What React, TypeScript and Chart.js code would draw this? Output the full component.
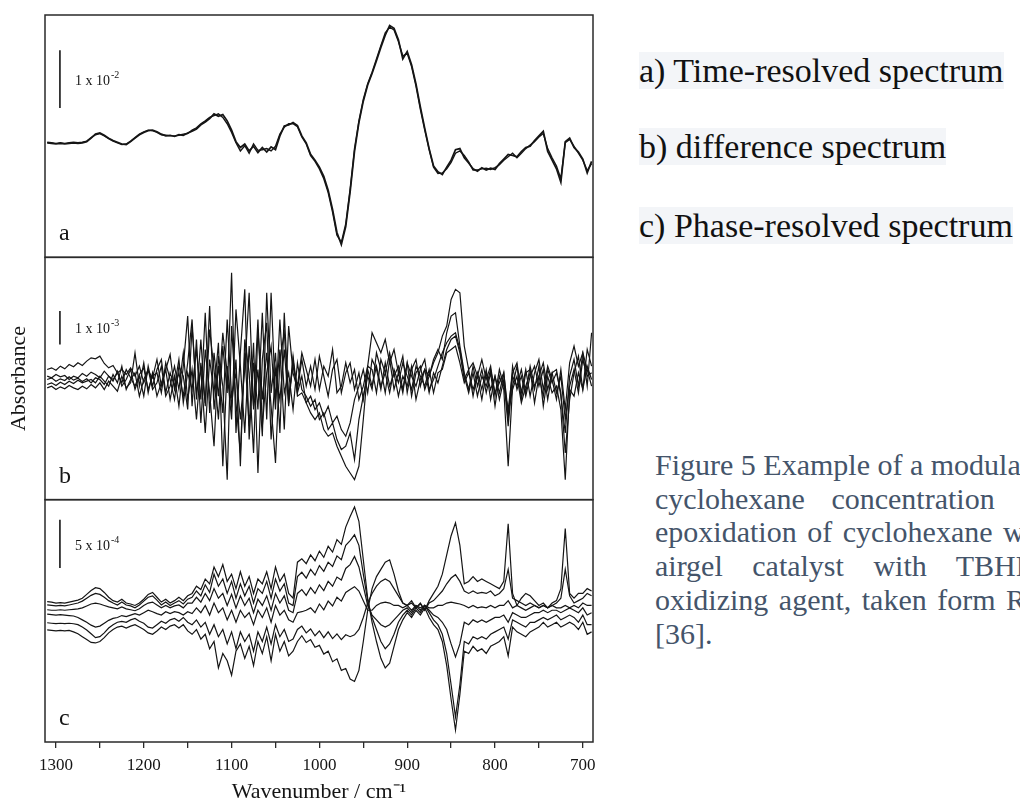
import React, { useEffect, useRef } from 'react';
import { Chart, registerables } from 'chart.js';

Chart.register(...registerables);

// ---------- data ----------
const WAVENUMBERS = [
  1310, 1305, 1300, 1295, 1290, 1285, 1280, 1275, 1270, 1265,
  1260, 1255, 1250, 1245, 1240, 1235, 1230, 1225, 1220, 1215,
  1210, 1205, 1200, 1195, 1190, 1185, 1180, 1175, 1170, 1165,
  1160, 1155, 1150, 1145, 1140, 1135, 1130, 1125, 1120, 1115,
  1110, 1105, 1100, 1095, 1090, 1085, 1080, 1075, 1070, 1065,
  1060, 1055, 1050, 1045, 1040, 1035, 1030, 1025, 1020, 1015,
  1010, 1005, 1000, 995, 990, 985, 980, 975, 970, 965,
  960, 955, 950, 945, 940, 935, 930, 925, 920, 915,
  910, 905, 900, 895, 890, 885, 880, 875, 870, 865,
  860, 855, 850, 845, 840, 835, 830, 825, 820, 815,
  810, 805, 800, 795, 790, 785, 780, 775, 770, 765,
  760, 755, 750, 745, 740, 735, 730, 725, 720, 715,
  710, 705, 700, 695, 690,
];

// panel a: time-resolved spectra (units of 1e-2)
const A1 = [
  0.00, -0.01, -0.02, -0.01, -0.02, -0.01, 0.00, -0.01, 0.00, 0.02,
  0.08, 0.15, 0.17, 0.13, 0.08, 0.04, 0.01, -0.02, -0.03, 0.02,
  0.08, 0.14, 0.18, 0.21, 0.22, 0.19, 0.15, 0.12, 0.13, 0.11,
  0.14, 0.13, 0.17, 0.20, 0.24, 0.31, 0.36, 0.42, 0.50, 0.46,
  0.49, 0.38, 0.22, 0.02, -0.08, -0.02, -0.14, -0.06, -0.17, -0.08,
  -0.16, -0.07, -0.12, 0.12, 0.29, 0.31, 0.35, 0.30, 0.12, 0.00,
  -0.20, -0.30, -0.42, -0.58, -0.82, -1.15, -1.55, -1.76, -1.45, -0.85,
  -0.15, 0.35, 0.72, 1.00, 1.20, 1.42, 1.65, 1.86, 2.03, 1.98,
  1.78, 1.45, 1.58, 1.35, 1.02, 0.62, 0.25, -0.10, -0.40, -0.50,
  -0.55, -0.42, -0.30, -0.12, -0.10, -0.26, -0.35, -0.45, -0.49, -0.43,
  -0.47, -0.44, -0.46, -0.36, -0.28, -0.20, -0.22, -0.24, -0.15, -0.08,
  -0.06, 0.04, 0.12, 0.20, -0.15, -0.30, -0.45, -0.68, 0.02, 0.08,
  -0.08, -0.16, -0.28, -0.52, -0.32,
];
const A2 = [
  0.01, 0.00, -0.01, 0.00, -0.01, 0.00, 0.01, 0.00, 0.01, 0.03,
  0.09, 0.14, 0.16, 0.12, 0.07, 0.03, 0.00, -0.03, -0.02, 0.03,
  0.09, 0.15, 0.19, 0.22, 0.21, 0.18, 0.14, 0.13, 0.12, 0.12,
  0.13, 0.15, 0.16, 0.22, 0.26, 0.33, 0.38, 0.44, 0.47, 0.50,
  0.44, 0.33, 0.18, 0.00, -0.14, -0.05, -0.18, -0.02, -0.13, -0.12,
  -0.10, -0.14, -0.06, 0.15, 0.27, 0.33, 0.33, 0.28, 0.10, -0.02,
  -0.22, -0.32, -0.45, -0.62, -0.86, -1.20, -1.60, -1.72, -1.40, -0.80,
  -0.10, 0.38, 0.75, 1.02, 1.22, 1.45, 1.68, 1.90, 2.00, 1.95,
  1.75, 1.50, 1.55, 1.32, 0.98, 0.58, 0.22, -0.12, -0.42, -0.53,
  -0.52, -0.45, -0.34, -0.18, -0.14, -0.22, -0.33, -0.47, -0.47, -0.45,
  -0.44, -0.46, -0.43, -0.38, -0.30, -0.24, -0.18, -0.26, -0.18, -0.10,
  -0.04, 0.02, 0.10, 0.16, -0.10, -0.26, -0.40, -0.62, 0.00, 0.06,
  -0.06, -0.18, -0.30, -0.48, -0.36,
];

// panel b: difference spectra (units of 1e-3)
const B1 = [
  0.30, 0.35, 0.28, 0.40, 0.32, 0.45, 0.38, 0.50, 0.42, 0.55,
  0.65, 0.62, 0.70, 0.48, 0.35, 0.42, 0.20, 0.30, 0.15, 0.35,
  0.10, 0.40, -0.10, 0.25, 0.05, 0.60, -0.20, 0.30, 0.75, -0.30,
  0.20, -0.50, 0.50, 1.80, -0.60, 1.20, -0.80, 1.50, 0.30, -1.20,
  1.00, -0.40, 3.20, -1.60, 0.80, 2.70, -1.80, 0.50, -0.90, 2.00,
  -1.20, 2.60, -0.60, 0.90, -1.50, 1.60, 0.20, -0.30, 0.60, -0.20,
  0.40, -0.30, 0.70, 0.10, -0.50, 0.30, 0.60, -0.40, 0.20, 0.50,
  -0.30, 0.20, -0.60, 0.40, 1.40, 1.10, 0.80, 1.20, 0.50, 0.90,
  0.20, 0.70, -0.40, 0.30, 0.60, -0.20, 0.30, 0.10, 0.50, 0.80,
  1.30, 1.60, 2.40, 2.70, 2.60, 1.00, 0.30, 0.50, 0.10, 0.60,
  0.00, 0.40, -0.50, 0.30, -0.20, -0.90, 0.20, 0.50, -0.40, 0.30,
  -0.50, 0.20, 0.60, -0.30, 0.40, 0.00, -0.60, 0.30, -0.90, 0.50,
  1.00, 0.40, 0.80, -0.20, 1.40,
];
const B2 = [
  0.10, 0.05, 0.15, 0.08, 0.12, 0.00, 0.10, 0.05, 0.18, 0.10,
  0.22, 0.15, 0.05, 0.25, 0.10, 0.00, 0.20, -0.10, 0.30, 0.05,
  -0.20, 0.15, 0.35, -0.30, 0.10, 0.20, -0.40, 0.50, 0.00, -0.60,
  0.40, 0.10, -0.90, 1.60, -0.40, 0.30, -1.60, 0.60, -0.40, 1.10,
  -2.60, 0.40, -0.80, 0.60, -2.60, 1.20, 0.20, -2.20, 1.50, -0.60,
  0.80, -0.80, -2.50, 0.60, 1.40, -0.50, 0.40, -0.20, 0.80, 0.30,
  -0.20, 0.60, -0.30, 0.40, 0.10, 0.90, -0.40, -0.20, 0.50, -0.10,
  0.30, -0.60, -0.20, 0.40, 0.30, -0.40, 0.60, 0.20, 0.80, 0.10,
  0.40, -0.30, 0.50, -0.50, 0.20, 0.40, -0.30, 0.10, 0.60, 0.90,
  0.60, 1.40, 1.90, 2.00, 1.00, 0.20, -0.30, 0.40, -0.20, 0.30,
  -0.40, 0.20, -0.80, 0.10, -0.30, -2.60, -0.20, 0.40, -0.60, 0.20,
  0.30, -0.70, 0.10, 0.50, -0.30, 0.20, -0.40, 0.10, -1.20, -0.20,
  0.30, -0.40, 0.60, 0.10, 0.20,
];
const B3 = [
  -0.25, -0.20, -0.30, -0.22, -0.28, -0.18, -0.25, -0.30, -0.20, -0.28,
  -0.15, -0.25, -0.10, -0.30, -0.05, -0.20, -0.35, 0.10, -0.25, -0.10,
  0.80, -0.20, 0.50, -0.40, 0.20, -0.50, -0.10, 0.30, -0.60, 0.10,
  -0.80, 0.40, 1.90, -0.80, 1.20, -1.30, 0.90, -0.40, -2.00, 0.70,
  -0.20, -3.00, 1.60, -0.70, -2.20, 0.80, -1.40, 1.10, -2.80, 0.60,
  1.70, -1.80, 0.30, -0.60, 0.90, -0.80, 0.60, -0.50, -0.40, -0.70,
  -0.50, -0.90, -0.70, -1.10, -0.80, -1.30, -1.10, -1.50, -1.70, -1.30,
  -0.60, -0.20, 0.30, -0.40, 0.60, 0.30, -0.30, 0.50, -0.20, 0.20,
  -0.50, 0.10, -0.20, 0.40, -0.60, 0.00, 0.30, -0.40, 0.20, -0.10,
  0.40, 0.90, 1.20, 1.30, 0.80, 0.00, 0.30, -0.50, 0.20, -0.30,
  0.30, -0.60, 0.10, -0.40, 0.20, -1.00, -0.30, 0.10, -0.70, -0.20,
  0.20, -0.30, 0.40, -0.80, 0.10, -0.40, -0.20, -0.90, -3.00, -0.30,
  -0.50, 0.20, -0.30, 0.40, 0.00,
];
const B4 = [
  0.00, 0.05, -0.05, 0.02, -0.03, 0.08, -0.02, 0.04, -0.06, 0.02,
  -0.10, 0.05, 0.00, -0.15, 0.10, -0.05, 0.25, -0.20, 0.00, 0.30,
  -0.30, 0.10, -0.50, 0.40, -0.20, 0.30, 0.60, -0.40, 0.20, -0.20,
  0.60, -0.70, 0.20, -0.30, 0.90, -0.60, 2.00, -1.00, 0.80, -0.50,
  1.40, 0.20, -1.20, 2.10, 0.40, -1.60, 1.00, -0.80, 1.80, -1.40,
  0.20, 1.00, -0.90, 1.80, -0.40, 0.20, -0.90, 0.50, -0.30, -0.50,
  -0.80, -0.60, -1.20, -1.00, -1.50, -1.30, -1.80, -2.10, -2.00, -1.60,
  -2.40, -1.20, -0.50, 0.10, -0.30, 0.80, 0.30, -0.40, 0.60, -0.30,
  0.20, -0.40, 0.50, 0.10, -0.20, 0.30, 0.60, -0.30, 0.00, 0.40,
  0.80, 1.10, 1.30, 1.40, 0.90, 0.10, -0.40, 0.20, -0.50, 0.10,
  -0.20, 0.30, -0.40, -0.10, 0.20, -1.20, 0.40, -0.30, 0.10, -0.50,
  0.10, 0.40, -0.20, 0.30, -0.60, 0.20, 0.30, -0.50, -1.60, 0.10,
  0.60, -0.20, 0.80, 0.30, -0.20,
];
const B5 = [
  -0.15, -0.10, -0.18, -0.08, -0.15, -0.05, -0.12, -0.02, -0.10, -0.05,
  0.00, -0.10, 0.10, -0.05, -0.20, 0.15, -0.10, 0.40, -0.30, 0.00,
  0.20, -0.50, 0.00, 0.30, -0.30, -0.10, 0.40, -0.50, -0.20, 0.40,
  -0.30, 0.80, -0.60, 0.30, -1.20, 0.50, -0.70, 2.20, -0.90, 0.40,
  -1.00, 1.80, -0.50, 0.20, -1.20, 0.30, 2.60, -0.90, 0.30, -1.70,
  2.60, -0.40, 0.80, -1.60, 2.00, -0.70, 0.70, -0.40, 0.10, -0.70,
  -1.00, -1.20, -1.00, -1.50, -1.70, -1.60, -2.00, -2.30, -2.60, -2.80,
  -3.00, -2.60, -1.20, 0.30, -0.20, 0.40, -0.20, 0.20, -0.40, 0.30,
  -0.10, 0.50, 0.10, -0.30, 0.40, 0.10, -0.20, 0.30, -0.40, 0.20,
  0.30, 0.80, 0.90, 1.00, 0.50, -0.10, 0.20, -0.30, 0.10, -0.60,
  0.20, -0.30, 0.10, -0.60, 0.00, -1.40, 0.10, -0.20, 0.30, -0.40,
  0.40, -0.20, 0.10, -0.50, 0.30, -0.10, 0.20, -0.40, -2.20, -0.60,
  0.20, 0.70, -0.30, 0.90, 0.40,
];

// panel c: phase-resolved spectra (units of 5e-4)
const C1 = [
  0.13, 0.12, 0.10, 0.11, 0.10, 0.12, 0.14, 0.16, 0.20, 0.28,
  0.36, 0.42, 0.40, 0.32, 0.22, 0.15, 0.12, 0.18, 0.10, 0.08,
  0.05, 0.10, 0.18, 0.28, 0.32, 0.22, 0.12, 0.18, 0.10, 0.15,
  0.22, 0.15, 0.25, 0.30, 0.45, 0.38, 0.60, 0.50, 0.85, 0.65,
  0.90, 0.55, 0.70, 0.40, 0.75, 0.45, 0.65, 0.30, 0.60, 0.50,
  0.75, 0.40, 0.85, 0.55, 0.70, 0.30, 0.20, 0.95, 1.02, 0.92,
  1.10, 0.98, 1.18, 1.05, 1.28, 1.16, 1.42, 1.32, 1.68, 1.90,
  2.10, 1.80, 1.00, 0.20, -0.30, -0.70, -1.05, -1.25, -1.15, -0.80,
  -0.45, -0.25, -0.10, -0.20, -0.05, -0.15, 0.00, -0.20, -0.35, -0.45,
  -0.70, -1.20, -1.90, -2.54, -1.80, -0.90, -0.95, -0.80, -0.90, -0.85,
  -0.95, -0.80, -0.75, -0.70, -0.60, -1.00, -0.40, -0.50, -0.55, -0.60,
  -0.50, -0.45, -0.40, -0.30, -0.40, -0.35, -0.30, -0.40, -0.35, -0.30,
  -0.35, -0.45, -0.30, -0.55, -0.50,
];
const C2 = [
  0.06, 0.05, 0.04, 0.05, 0.04, 0.06, 0.08, 0.10, 0.14, 0.20,
  0.26, 0.30, 0.28, 0.22, 0.15, 0.10, 0.06, 0.12, 0.06, 0.04,
  0.00, 0.06, 0.14, 0.22, 0.25, 0.16, 0.06, 0.12, 0.05, 0.10,
  0.15, 0.08, 0.18, 0.22, 0.35, 0.25, 0.48, 0.32, 0.70, 0.45,
  0.60, 0.30, 0.55, 0.20, 0.50, 0.25, 0.45, 0.10, 0.40, 0.30,
  0.55, 0.20, 0.60, 0.35, 0.50, 0.10, 0.05, 0.65, 0.74, 0.62,
  0.80, 0.68, 0.88, 0.76, 0.95, 0.86, 1.08, 1.00, 1.30, 1.40,
  1.52, 1.30, 0.70, 0.15, -0.20, -0.45, -0.70, -0.85, -0.75, -0.55,
  -0.30, -0.15, -0.05, -0.15, 0.00, -0.10, 0.05, -0.10, -0.25, -0.35,
  -0.55, -0.95, -1.60, -2.27, -1.60, -0.70, -0.75, -0.60, -0.65, -0.60,
  -0.65, -0.55, -0.50, -0.45, -0.40, -0.65, -0.25, -0.30, -0.35, -0.40,
  -0.30, -0.30, -0.25, -0.20, -0.25, -0.20, -0.15, -0.25, -0.20, -0.15,
  -0.20, -0.30, -0.15, -0.35, -0.35,
];
const C3 = [
  -0.04, -0.05, -0.05, -0.04, -0.05, -0.04, -0.03, -0.02, 0.00, 0.04,
  0.08, 0.10, 0.08, 0.05, 0.02, 0.00, -0.02, 0.02, -0.02, -0.04,
  -0.06, -0.02, 0.05, 0.10, 0.12, 0.06, 0.00, 0.05, 0.00, 0.04,
  0.06, 0.00, 0.10, 0.10, 0.22, 0.12, 0.30, 0.15, 0.40, 0.20,
  0.30, 0.05, 0.28, 0.00, 0.25, 0.05, 0.20, -0.10, 0.18, 0.05,
  0.25, -0.05, 0.30, 0.10, 0.25, -0.05, -0.10, 0.30, 0.38, 0.26,
  0.42, 0.30, 0.48, 0.36, 0.55, 0.45, 0.64, 0.58, 0.82, 0.90,
  1.07, 0.85, 0.45, 0.05, -0.15, -0.25, -0.35, -0.40, -0.35, -0.25,
  -0.15, -0.05, 0.00, -0.10, 0.05, -0.05, 0.05, -0.05, -0.15, -0.20,
  -0.30, -0.45, -0.75, -1.02, -0.75, -0.30, -0.35, -0.25, -0.30, -0.25,
  -0.30, -0.25, -0.20, -0.20, -0.15, -0.30, -0.10, -0.15, -0.20, -0.20,
  -0.15, -0.10, -0.10, -0.05, -0.10, -0.05, -0.05, -0.10, -0.05, 0.00,
  -0.05, -0.10, 0.00, -0.15, -0.10,
];
const C4 = [
  -0.13, -0.14, -0.15, -0.14, -0.15, -0.16, -0.17, -0.20, -0.25, -0.30,
  -0.36, -0.40, -0.38, -0.32, -0.26, -0.22, -0.20, -0.16, -0.18, -0.15,
  -0.12, -0.15, -0.10, -0.05, -0.08, -0.12, -0.15, -0.08, -0.12, -0.08,
  -0.10, -0.15, -0.08, -0.12, 0.00, -0.10, 0.05, -0.15, 0.10, -0.10,
  0.00, -0.25, -0.05, -0.30, -0.05, -0.20, -0.10, -0.35, -0.05, -0.20,
  0.00, -0.30, 0.05, -0.15, -0.05, -0.25, -0.30, -0.10, -0.08, -0.05,
  0.00, -0.10, 0.08, -0.04, 0.14, 0.04, 0.22, 0.14, 0.32, 0.38,
  0.44, 0.35, 0.15, -0.05, -0.05, 0.05, 0.10, 0.12, 0.10, 0.05,
  0.05, 0.00, 0.05, -0.05, 0.05, 0.00, 0.05, 0.00, 0.00, 0.05,
  0.05, 0.10, 0.12, 0.10, 0.08, 0.05, 0.00, 0.05, 0.00, 0.02,
  0.00, 0.05, 0.00, 0.05, 0.05, 0.15, 0.00, 0.05, 0.00, -0.05,
  0.00, 0.05, 0.00, 0.05, 0.00, 0.05, 0.00, 0.00, 0.05, 0.00,
  0.05, 0.00, 0.10, 0.05, 0.05,
];
const C5 = [
  -0.31, -0.32, -0.33, -0.32, -0.33, -0.32, -0.33, -0.35, -0.40, -0.46,
  -0.54, -0.62, -0.60, -0.52, -0.42, -0.35, -0.30, -0.28, -0.30, -0.25,
  -0.22, -0.28, -0.32, -0.40, -0.42, -0.35, -0.28, -0.32, -0.25, -0.22,
  -0.28, -0.20, -0.30, -0.35, -0.25, -0.40, -0.30, -0.55, -0.35, -0.60,
  -0.45, -0.75, -0.50, -0.85, -0.50, -0.70, -0.55, -0.90, -0.50, -0.70,
  -0.40, -0.75, -0.35, -0.60, -0.45, -0.70, -0.65, -0.45, -0.38, -0.52,
  -0.44, -0.58, -0.48, -0.62, -0.50, -0.64, -0.54, -0.66, -0.56, -0.60,
  -0.56, -0.45, -0.20, 0.10, 0.30, 0.45, 0.55, 0.60, 0.55, 0.40,
  0.25, 0.10, 0.05, 0.10, 0.00, 0.08, -0.05, 0.10, 0.15, 0.25,
  0.35, 0.50, 0.62, 0.69, 0.55, 0.35, 0.30, 0.35, 0.30, 0.32,
  0.30, 0.35, 0.25, 0.30, 0.40, 0.80, 0.20, 0.15, 0.10, 0.05,
  0.10, 0.05, 0.00, 0.05, 0.00, 0.05, 0.10, 0.20, 0.80, 0.25,
  0.10, 0.15, 0.20, 0.30, 0.25,
];
const C6 = [
  -0.46, -0.47, -0.48, -0.47, -0.48, -0.47, -0.50, -0.54, -0.60, -0.66,
  -0.72, -0.73, -0.70, -0.62, -0.52, -0.45, -0.40, -0.38, -0.42, -0.38,
  -0.35, -0.40, -0.45, -0.52, -0.55, -0.48, -0.40, -0.45, -0.38, -0.35,
  -0.42, -0.35, -0.48, -0.55, -0.45, -0.65, -0.55, -0.85, -0.70, -1.25,
  -0.95, -1.10, -1.40, -0.90, -0.75, -1.05, -0.80, -1.20, -0.70, -0.95,
  -0.60, -1.10, -0.55, -0.90, -0.70, -1.00, -0.90, -0.70, -0.58, -0.72,
  -0.66, -0.82, -0.78, -0.96, -0.90, -1.12, -1.06, -1.30, -1.26, -1.48,
  -1.53, -1.30, -0.70, -0.05, 0.40, 0.65, 0.80, 0.95, 1.00, 0.70,
  0.35, 0.10, 0.05, 0.15, 0.00, 0.10, -0.05, 0.15, 0.30, 0.45,
  0.70, 1.10, 1.50, 1.77, 1.30, 0.50, 0.55, 0.65, 0.55, 0.60,
  0.55, 0.50, 0.45, 0.40, 0.55, 1.75, 0.30, 0.05, 0.20, 0.30,
  0.25, 0.15, 0.05, 0.10, 0.00, 0.10, 0.15, 0.40, 1.65, 0.30,
  0.20, 0.30, 0.30, 0.40, 0.35,
];

// axes
const X_MIN = 688.4;
const X_MAX = 1312.5;
const MAJOR_TICKS = [1300, 1200, 1100, 1000, 900, 800, 700];
const Y_A = [-1.98, 2.21];
const Y_B = [-3.6, 3.66];
const Y_C = [-2.79, 2.25];

// intensity scale bars
const SCALE_BAR_X = 1295.5;
const BAR_A = [0.6, 1.6];
const BAR_B = [1.05, 2.05];
const BAR_C = [0.83, 1.83];
const BAR_LABELS = [
  { axis: 'ya', letter: 'a', bar: BAR_A, exp: '-2', base: '1 x 10' },
  { axis: 'yb', letter: 'b', bar: BAR_B, exp: '-3', base: '1 x 10' },
  { axis: 'yc', letter: 'c', bar: BAR_C, exp: '-4', base: '5 x 10' },
];

const FONT = '"Liberation Serif", "Times New Roman", serif';
const INK = '#151515';

function line(vals: number[], axis: string, width: number) {
  return {
    data: WAVENUMBERS.map((x, i) => ({ x, y: vals[i] })),
    yAxisID: axis,
    borderColor: INK,
    borderWidth: width,
    pointRadius: 0,
    tension: 0,
    fill: false,
  };
}
function bar(vals: number[], axis: string) {
  return {
    data: vals.map((y) => ({ x: SCALE_BAR_X, y })),
    yAxisID: axis,
    borderColor: INK,
    borderWidth: 1.6,
    pointRadius: 0,
    fill: false,
  };
}

const panelPlugin = {
  id: 'panelDecor',
  afterDatasetsDraw(chart: any) {
    const { ctx, chartArea, scales } = chart;
    ctx.save();
    ctx.strokeStyle = '#2a2a2a';
    ctx.lineWidth = 1.5;
    ctx.fillStyle = INK;
    BAR_LABELS.forEach((p) => {
      const s = scales[p.axis];
      ctx.strokeRect(chartArea.left, s.top, chartArea.right - chartArea.left, s.bottom - s.top);
      ctx.font = `24px ${FONT}`;
      ctx.textAlign = 'left';
      ctx.textBaseline = 'alphabetic';
      ctx.fillText(p.letter, chartArea.left + 14, s.bottom - 17);
      const bx = scales.x.getPixelForValue(SCALE_BAR_X) + 15;
      const by = s.getPixelForValue((p.bar[0] + p.bar[1]) / 2);
      ctx.font = `14px ${FONT}`;
      ctx.textBaseline = 'middle';
      ctx.fillText(p.base, bx, by + 2);
      const w = ctx.measureText(p.base).width;
      ctx.font = `10px ${FONT}`;
      ctx.fillText(p.exp, bx + w + 1, by - 4);
    });
    ctx.translate(19, (scales.yb.top + scales.yb.bottom) / 2);
    ctx.rotate(-Math.PI / 2);
    ctx.font = `22px ${FONT}`;
    ctx.textAlign = 'center';
    ctx.textBaseline = 'middle';
    ctx.fillText('Absorbance', 0, 0);
    ctx.restore();
  },
};

function yAxis(range: number[]) {
  return {
    type: 'linear',
    position: 'left',
    stack: 'spectra',
    stackWeight: 1,
    min: range[0],
    max: range[1],
    ticks: { display: false },
    grid: { display: false, drawTicks: false },
    border: { display: false },
    afterFit: (s: any) => {
      s.width = 45;
    },
  };
}

export default function App() {
  const ref = useRef<HTMLCanvasElement>(null);
  useEffect(() => {
    const chart = new Chart(ref.current as HTMLCanvasElement, {
      type: 'line',
      data: {
        datasets: [
          line(A1, 'ya', 1.7),
          line(A2, 'ya', 1.4),
          line(B1, 'yb', 1.2),
          line(B2, 'yb', 1.2),
          line(B3, 'yb', 1.2),
          line(B4, 'yb', 1.2),
          line(B5, 'yb', 1.2),
          line(C1, 'yc', 1.2),
          line(C2, 'yc', 1.2),
          line(C3, 'yc', 1.2),
          line(C4, 'yc', 1.2),
          line(C5, 'yc', 1.2),
          line(C6, 'yc', 1.2),
          bar(BAR_A, 'ya'),
          bar(BAR_B, 'yb'),
          bar(BAR_C, 'yc'),
        ] as any,
      },
      options: {
        responsive: false,
        animation: false,
        events: [],
        layout: { padding: { top: 15, right: 27, left: 0, bottom: 0 }, autoPadding: false },
        plugins: { legend: { display: false }, tooltip: { enabled: false } },
        scales: {
          x: {
            type: 'linear',
            position: 'bottom',
            reverse: true,
            min: X_MIN,
            max: X_MAX,
            grid: {
              display: true,
              drawOnChartArea: false,
              drawTicks: true,
              tickLength: 6,
              color: '#2a2a2a',
              lineWidth: 1.3,
            },
            border: { display: false },
            ticks: {
              stepSize: 50,
              includeBounds: false,
              autoSkip: false,
              maxRotation: 0,
              padding: 7,
              color: INK,
              font: { family: FONT, size: 17 },
              callback: (v: any) => (MAJOR_TICKS.includes(Number(v)) ? String(v) : ''),
            },
            title: {
              display: true,
              text: 'Wavenumber / cm⁻¹',
              color: INK,
              font: { family: FONT, size: 22, lineHeight: 1 },
              padding: { top: 0, bottom: 0 },
            },
            afterFit: (s: any) => {
              s.height = 61;
            },
          },
          yc: yAxis(Y_C),
          yb: yAxis(Y_B),
          ya: yAxis(Y_A),
        } as any,
      },
      plugins: [panelPlugin],
    });
    return () => chart.destroy();
  }, []);

  const head: React.CSSProperties = {
    position: 'absolute',
    left: 639,
    fontFamily: FONT,
    fontSize: 34,
    lineHeight: '38px',
    whiteSpace: 'nowrap',
    color: '#111',
  };
  const hl: React.CSSProperties = { background: '#f3f5f8' };
  const cap: React.CSSProperties = { whiteSpace: 'nowrap' };

  return (
    <div
      style={{
        position: 'fixed',
        left: 0,
        top: 0,
        width: 1020,
        height: 803,
        overflow: 'hidden',
        background: '#fff',
      }}
    >
      <canvas
        ref={ref}
        width={620}
        height={803}
        style={{ position: 'absolute', left: 0, top: 0, width: 620, height: 803 }}
      />
      <div style={{ ...head, top: 52 }}>
        <span style={hl}>a) Time-resolved spectrum</span>
      </div>
      <div style={{ ...head, top: 128 }}>
        <span style={hl}>b) difference spectrum</span>
      </div>
      <div style={{ ...head, top: 207 }}>
        <span style={hl}>c) Phase-resolved spectrum</span>
      </div>
      <div
        style={{
          position: 'absolute',
          left: 655,
          top: 448,
          fontFamily: FONT,
          fontSize: 30,
          lineHeight: '33.7px',
          color: '#44546a',
        }}
      >
        <div style={cap}>Figure 5 Example of a modulation experiment:</div>
        <div style={{ ...cap, wordSpacing: 19 }}>cyclohexane concentration modulation during</div>
        <div style={{ ...cap, wordSpacing: 3 }}>epoxidation of cyclohexane with titania-silica</div>
        <div style={{ ...cap, wordSpacing: 22 }}>airgel catalyst with TBHP as</div>
        <div style={{ ...cap, wordSpacing: 3 }}>oxidizing agent, taken form Ref.</div>
        <div style={cap}>[36].</div>
      </div>
    </div>
  );
}
